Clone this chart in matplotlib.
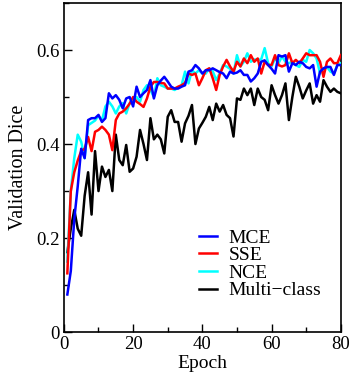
import matplotlib.pyplot as plt
from matplotlib.ticker import MultipleLocator

plt.rcParams['font.family'] = ['Liberation Serif', 'DejaVu Serif']

# epochs 1..80
epochs = list(range(1, 81))

mce = [0.08, 0.13, 0.24, 0.31, 0.39, 0.37, 0.451, 0.455, 0.455, 0.462,
       0.447, 0.455, 0.508, 0.497, 0.504, 0.494, 0.476, 0.497, 0.50, 0.48,
       0.522, 0.50, 0.508, 0.515, 0.536, 0.497, 0.525, 0.535, 0.543, 0.533,
       0.522, 0.518, 0.518, 0.522, 0.525, 0.554, 0.557, 0.568, 0.561, 0.55,
       0.557, 0.557, 0.561, 0.557, 0.553, 0.55, 0.54, 0.554, 0.55, 0.552,
       0.557, 0.547, 0.547, 0.533, 0.54, 0.55, 0.575, 0.578, 0.568, 0.56,
       0.55, 0.589, 0.586, 0.589, 0.554, 0.572, 0.568, 0.575, 0.572, 0.564,
       0.561, 0.568, 0.522, 0.554, 0.561, 0.564, 0.564, 0.547, 0.568, 0.568]

sse = [0.125, 0.30, 0.34, 0.365, 0.385, 0.39, 0.415, 0.385, 0.426, 0.43,
       0.437, 0.43, 0.42, 0.387, 0.451, 0.465, 0.469, 0.476, 0.486, 0.50,
       0.49, 0.485, 0.479, 0.497, 0.522, 0.532, 0.532, 0.53, 0.529, 0.518,
       0.518, 0.518, 0.522, 0.525, 0.53, 0.55, 0.547, 0.55, 0.525, 0.54,
       0.557, 0.561, 0.54, 0.515, 0.547, 0.565, 0.579, 0.565, 0.554, 0.575,
       0.565, 0.582, 0.572, 0.589, 0.575, 0.582, 0.55, 0.575, 0.568, 0.568,
       0.589, 0.568, 0.565, 0.568, 0.593, 0.572, 0.579, 0.572, 0.582, 0.593,
       0.589, 0.589, 0.589, 0.575, 0.543, 0.575, 0.582, 0.572, 0.572, 0.589]

nce = [0.15, 0.30, 0.37, 0.42, 0.405, 0.37, 0.44, 0.445, 0.45, 0.46,
       0.45, 0.48, 0.49, 0.48, 0.465, 0.48, 0.487, 0.465, 0.487, 0.49,
       0.50, 0.49, 0.515, 0.525, 0.515, 0.50, 0.54, 0.525, 0.522, 0.518,
       0.518, 0.515, 0.52, 0.525, 0.554, 0.529, 0.557, 0.55, 0.557, 0.55,
       0.55, 0.561, 0.555, 0.536, 0.55, 0.568, 0.565, 0.56, 0.55, 0.589,
       0.565, 0.575, 0.593, 0.575, 0.58, 0.579, 0.58, 0.604, 0.572, 0.565,
       0.582, 0.572, 0.586, 0.575, 0.572, 0.575, 0.568, 0.564, 0.579, 0.575,
       0.60, 0.593, 0.582, 0.55, 0.561, 0.564, 0.554, 0.55, 0.568, 0.572]

multi = [0.17, 0.22, 0.26, 0.22, 0.205, 0.29, 0.34, 0.25, 0.385, 0.30,
         0.352, 0.33, 0.345, 0.30, 0.42, 0.366, 0.355, 0.398, 0.341, 0.348,
         0.373, 0.43, 0.40, 0.366, 0.455, 0.41, 0.42, 0.41, 0.38, 0.458,
         0.472, 0.447, 0.447, 0.405, 0.444, 0.46, 0.483, 0.40, 0.433, 0.445,
         0.458, 0.479, 0.451, 0.486, 0.469, 0.483, 0.462, 0.455, 0.416, 0.497,
         0.494, 0.518, 0.504, 0.518, 0.483, 0.518, 0.50, 0.494, 0.472, 0.525,
         0.504, 0.486, 0.504, 0.529, 0.451, 0.50, 0.543, 0.522, 0.497, 0.514,
         0.529, 0.486, 0.504, 0.49, 0.536, 0.522, 0.511, 0.518, 0.511, 0.508]

fig = plt.figure(figsize=(3.51, 3.74), dpi=100)
ax = fig.add_axes([0.182, 0.112, 0.789, 0.880])

lw = 1.8
l_multi, = ax.plot(epochs, multi, color='black', lw=lw, label='Multi\u2212class', zorder=2)
l_nce, = ax.plot(epochs, nce, color='cyan', lw=lw, label='NCE', zorder=3)
l_sse, = ax.plot(epochs, sse, color='red', lw=lw, label='SSE', zorder=4)
l_mce, = ax.plot(epochs, mce, color='blue', lw=lw, label='MCE', zorder=5)

ax.set_xlim(0, 80)
ax.set_ylim(0, 0.7)
ax.xaxis.set_minor_locator(MultipleLocator(10))
ax.yaxis.set_minor_locator(MultipleLocator(0.1))
ax.set_xticks([0, 20, 40, 60, 80])
ax.set_xticklabels(['0', '20', '40', '60', '80'])
ax.set_yticks([0, 0.2, 0.4, 0.6])
ax.set_yticklabels(['0', '0.2', '0.4', '0.6'])
ax.tick_params(which='both', direction='in', top=False, right=False,
               labelsize=13.5, width=1)
ax.tick_params(which='major', length=6, pad=3)
ax.tick_params(which='minor', length=3.5)
for s in ax.spines.values():
    s.set_linewidth(1.2)

ax.set_xlabel('Epoch', fontsize=14, labelpad=1)
ax.set_ylabel('Validation Dice', fontsize=14.5, labelpad=6)

ax.legend(handles=[l_mce, l_sse, l_nce, l_multi], loc='lower right',
          bbox_to_anchor=(0.965, 0.07), frameon=False, fontsize=14,
          handlelength=0.9, handletextpad=0.6, labelspacing=0.0, borderpad=0)

fig.savefig('out.png', dpi=100)
